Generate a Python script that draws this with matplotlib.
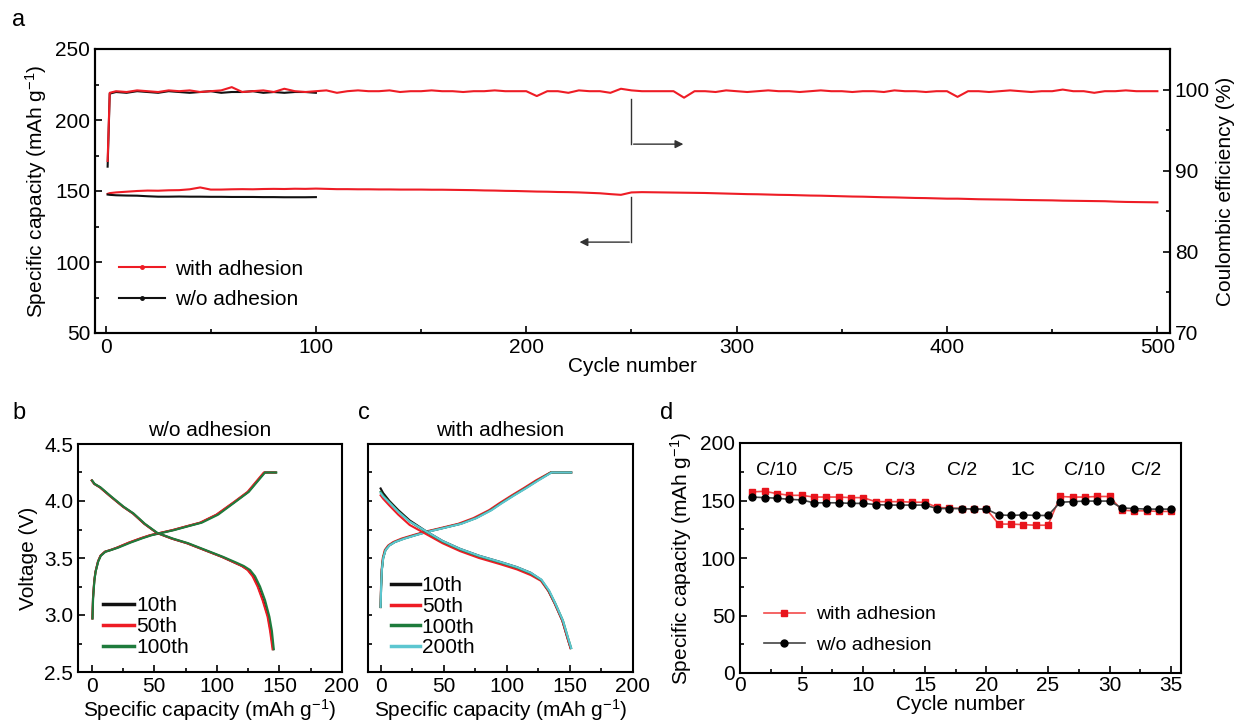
import matplotlib
matplotlib.use("Agg")
import matplotlib.pyplot as plt
from matplotlib.ticker import MultipleLocator
from matplotlib.lines import Line2D

plt.rcParams['font.family'] = ['Liberation Sans', 'DejaVu Sans']
plt.rcParams['mathtext.default'] = 'regular'
plt.rcParams['axes.linewidth'] = 1.5

RED = '#ee1c25'
BLACK = '#111111'
GREEN = '#1e7b3c'
CYAN = '#5cc6d0'

# ---------------- panel a data ----------------
cyc_with = [1, 2] + list(range(5, 501, 5))
cap_with = [148.0, 148.5, 149.0, 149.5, 150.0, 150.3, 150.2, 150.5, 150.6, 151.2, 152.5, 151.0,
            151.0, 151.2, 151.3, 151.2, 151.4, 151.5, 151.4, 151.6, 151.5, 151.7,
            151.5, 151.3, 151.3, 151.2, 151.2, 151.1, 151.1, 151.0, 151.0, 151.0,
            150.9, 150.9, 150.8, 150.7, 150.6, 150.4, 150.3, 150.1, 150.0, 149.8,
            149.6, 149.5, 149.3, 149.2, 149.0, 148.7, 148.4, 147.8, 147.3, 149.0,
            149.2, 149.1, 149.0, 148.9, 148.8, 148.7, 148.6, 148.4, 148.2, 148.0,
            147.8, 147.7, 147.5, 147.3, 147.2, 147.0, 146.8, 146.7, 146.5, 146.3,
            146.1, 146.0, 145.8, 145.6, 145.5, 145.3, 145.1, 145.0, 144.8, 144.6,
            144.6, 144.4, 144.2, 144.1, 144.0, 143.9, 143.7, 143.6, 143.5, 143.4,
            143.2, 143.1, 143.0, 142.9, 142.8, 142.5, 142.3, 142.2, 142.1, 142.0]
ce_with = [91.2, 99.6, 99.8, 99.7, 99.9, 99.8, 99.7, 99.9, 99.8, 99.9, 99.7, 99.8,
           99.9, 100.3, 99.7, 99.8, 99.9, 99.7, 100.1, 99.8, 99.7, 99.8,
           99.9, 99.6, 99.8, 99.9, 99.8, 99.8, 99.9, 99.7, 99.8, 99.8,
           99.9, 99.8, 99.8, 99.7, 99.8, 99.8, 99.9, 99.8, 99.8, 99.8,
           99.2, 99.8, 99.8, 99.6, 99.9, 99.8, 99.8, 99.6, 100.1, 99.9,
           99.8, 99.8, 99.8, 99.8, 99.0, 99.8, 99.8, 99.7, 99.9, 99.8,
           99.7, 99.8, 99.9, 99.8, 99.8, 99.7, 99.8, 99.9, 99.8, 99.8,
           99.7, 99.8, 99.8, 99.7, 99.9, 99.8, 99.8, 99.7, 99.8, 99.8,
           99.1, 99.8, 99.8, 99.7, 99.8, 99.9, 99.8, 99.7, 99.8, 99.8,
           100.0, 99.8, 99.8, 99.6, 99.8, 99.8, 99.9, 99.8, 99.8, 99.8]

cyc_wo = [1, 2] + list(range(5, 101, 5))
cap_wo = [147.5, 147.3, 147.0, 146.8, 146.7, 146.3, 146.0, 146.0, 146.1, 146.0, 146.0,
          145.9, 145.9, 145.8, 145.8, 145.8, 145.7, 145.7, 145.6, 145.6, 145.6, 145.7]
ce_wo = [90.5, 99.5, 99.7, 99.6, 99.8, 99.7, 99.6, 99.8, 99.7, 99.6, 99.7, 99.8,
         99.6, 99.7, 99.7, 99.8, 99.6, 99.7, 99.6, 99.7, 99.7, 99.6]

# ---------------- panel b data (w/o adhesion) ----------------
b_chg_v = [2.97, 3.15, 3.30, 3.38, 3.47, 3.52, 3.555, 3.57, 3.59, 3.635, 3.675,
           3.70, 3.72, 3.745, 3.775, 3.81, 3.88, 3.99, 4.08, 4.25, 4.25]
b_chg_10 = [0.5, 1, 2, 3, 5, 7, 10.5, 15, 20, 30, 40, 47, 55, 65, 75, 87, 100, 114, 125, 138, 147]
b_chg_50 = [0.5, 1, 2, 3, 5, 7, 10.5, 15, 20, 29.5, 39.5, 46.5, 54.5, 64.5, 74.5, 86.5, 99.5,
            113.5, 124.5, 137.5, 147]
b_chg_100 = [0.6, 1.1, 2.1, 3.1, 5.2, 7.3, 11, 15.5, 21, 31, 41, 48, 56, 66, 76, 88, 101,
             114.5, 125.5, 138.5, 147.5]
b_dis_v = [4.18, 4.15, 4.12, 4.04, 3.95, 3.89, 3.80, 3.72, 3.67, 3.63, 3.57, 3.51, 3.46,
           3.43, 3.395, 3.34, 3.25, 3.13, 2.985, 2.86, 2.70]
b_dis_10 = [0, 2, 6.5, 15, 25, 33, 42, 52, 64, 76, 90, 104, 114, 120, 125, 129, 133, 137,
            141, 143, 145]
b_dis_50 = [0, 2, 6.5, 15, 25, 33, 42, 52, 64, 76, 90, 104, 114, 120, 124.5, 128.5, 132.5,
            136.5, 140.5, 142.5, 144.5]
b_dis_100 = [0.3, 2.3, 7, 15.5, 25.5, 33.5, 42.5, 52.5, 65, 77, 91, 105, 115.5, 121.5, 126.5,
             130.5, 134.5, 138.5, 142, 144, 145.5]

# ---------------- panel c data (with adhesion) ----------------
c_chg_v = [3.07, 3.25, 3.40, 3.50, 3.57, 3.61, 3.64, 3.67, 3.70, 3.73, 3.76, 3.80, 3.85,
           3.92, 3.98, 4.05, 4.11, 4.18, 4.25, 4.25]
c_chg_10 = [0, 0.4, 1.0, 2.0, 3.8, 6.7, 11, 18, 27, 36.5, 48, 63, 75, 87, 95, 105, 114, 124, 135, 151]
c_chg_50 = [0, 0.3, 0.8, 1.7, 3.3, 6.0, 10, 16.5, 25.5, 35, 46.5, 61.5, 73.5, 86, 94, 104, 113,
            123, 134.5, 151]
c_chg_100 = [0, 0.4, 1.0, 2.0, 3.8, 6.8, 11.2, 18.5, 27.5, 37, 48.5, 63.5, 75.5, 87.5, 95.5,
             105.5, 114.5, 124.5, 135, 151]
c_chg_200 = [0, 0.4, 1.0, 2.1, 4.0, 7.0, 11.5, 19, 28, 37.5, 49, 64, 76, 88, 96, 106, 115, 125,
             135.5, 151]
c_dis_cap = [0, 2, 7, 14, 23, 36, 49, 63, 78, 95, 108, 119, 127, 133, 138, 144, 148, 150.5]
c_dis_cap_late = [0, 2, 7, 14, 23, 36, 49, 63, 78, 95, 108, 119, 127.5, 133.5, 138.5, 144.5,
                  148.5, 151]
c_dis_10 = [4.11, 4.07, 4.00, 3.92, 3.83, 3.735, 3.65, 3.58, 3.52, 3.465, 3.42, 3.37, 3.31,
            3.21, 3.10, 2.95, 2.80, 2.71]
c_dis_50 = [4.05, 4.02, 3.96, 3.88, 3.79, 3.71, 3.63, 3.56, 3.50, 3.445, 3.40, 3.35, 3.30,
            3.21, 3.10, 2.95, 2.80, 2.71]
c_dis_100 = [4.08, 4.05, 3.99, 3.91, 3.82, 3.73, 3.645, 3.575, 3.515, 3.46, 3.415, 3.365,
             3.305, 3.21, 3.10, 2.95, 2.80, 2.71]
c_dis_200 = [4.07, 4.04, 3.985, 3.905, 3.82, 3.735, 3.65, 3.58, 3.52, 3.465, 3.42, 3.37,
             3.31, 3.215, 3.10, 2.95, 2.80, 2.71]

# ---------------- panel d data (rate) ----------------
rate_cycles = list(range(1, 36))
rate_with = [157.5, 158, 156, 154.5, 154.5, 153, 153, 153, 152.5, 152.5,
             149, 149, 149, 148.5, 148.5, 144, 143.5, 143, 142.5, 142.5,
             129.5, 129.5, 129, 128.5, 128.5, 153.5, 153, 153, 153.5, 153.5,
             141.5, 141, 141, 140.5, 140.5]
rate_wo = [153, 152.5, 152, 151, 150.5, 148, 148, 148, 147.5, 147.5,
           146.5, 146, 146, 146, 146, 143, 143, 143, 142.5, 142.5,
           137.5, 137, 137.5, 137, 137, 148.5, 149, 149.5, 149.5, 149.5,
           143.5, 143, 142.5, 142.5, 142.5]
rate_labels = ['C/10', 'C/5', 'C/3', 'C/2', '1C', 'C/10', 'C/2']
rate_label_x = [3, 8, 13, 18, 23, 28, 33]

FS = 15
W, H = 1240, 724
fig = plt.figure(figsize=(W / 100, H / 100), dpi=100)


def rect(l, t, r, b):
    return [l / W, 1 - b / H, (r - l) / W, (b - t) / H]


def style(ax, right=False):
    ax.tick_params(which='both', direction='in', labelsize=FS, width=1.2,
                   top=False, right=right, left=not right)
    ax.tick_params(which='major', length=5)
    ax.tick_params(which='minor', length=3)


# ---- panel a ----
ax = fig.add_axes(rect(95, 49, 1170, 333))
ax2 = ax.twinx()
ax.plot(cyc_with, cap_with, '-', color=RED, lw=1.5)
ax.plot(cyc_wo, cap_wo, '-', color=BLACK, lw=1.5)
ax2.plot(cyc_wo, ce_wo, '-', color=BLACK, lw=1.5)
ax2.plot(cyc_with, ce_with, '-', color=RED, lw=1.5)
ax.set_xlim(-5, 506)
ax.set_ylim(50, 250)
ax2.set_ylim(70, 105)
ax.xaxis.set_major_locator(MultipleLocator(100))
ax.xaxis.set_minor_locator(MultipleLocator(50))
ax.yaxis.set_major_locator(MultipleLocator(50))
ax.yaxis.set_minor_locator(MultipleLocator(25))
ax2.yaxis.set_major_locator(MultipleLocator(10))
ax2.yaxis.set_minor_locator(MultipleLocator(5))
style(ax)
ax2.tick_params(which='both', direction='in', labelsize=FS, width=1.2)
ax2.tick_params(which='major', length=5)
ax2.tick_params(which='minor', length=3)
ax.set_xlabel('Cycle number', fontsize=FS, labelpad=0)
ax.set_ylabel('Specific capacity (mAh g$^{-1}$)', fontsize=FS, labelpad=4)
ax2.set_ylabel('Coulombic efficiency (%)', fontsize=FS, labelpad=4)
proxies = [Line2D([], [], color=RED, lw=1.5, marker='o', ms=2.5),
           Line2D([], [], color=BLACK, lw=1.5, marker='o', ms=2.5)]
ax.legend(proxies, ['with adhesion', 'w/o adhesion'], loc='lower left',
          bbox_to_anchor=(0.0, 0.0), frameon=False, fontsize=15,
          handlelength=2.2, handletextpad=0.5, labelspacing=0.55, borderaxespad=0.75)
# annotation arrows
ax.plot([250, 250], [215, 183], color='#333333', lw=1)
ax.annotate('', xy=(276, 183), xytext=(249.7, 183),
            arrowprops=dict(arrowstyle='-|>', color='#333333', lw=1, mutation_scale=12))
ax.plot([250, 250], [145.5, 114], color='#333333', lw=1)
ax.annotate('', xy=(224, 114), xytext=(250.3, 114),
            arrowprops=dict(arrowstyle='-|>', color='#333333', lw=1, mutation_scale=12))
fig.text(12 / W, 1 - 20 / H, 'a', fontsize=17, va='center', ha='left')

# ---- panel b ----
axb = fig.add_axes(rect(78, 444, 342, 672))
axb.plot(b_chg_10, b_chg_v, color=BLACK, lw=1.5, label='10th')
axb.plot(b_chg_50, b_chg_v, color=RED, lw=1.5, label='50th')
axb.plot(b_chg_100, b_chg_v, color=GREEN, lw=1.5, label='100th')
axb.plot(b_dis_10, b_dis_v, color=BLACK, lw=1.5)
axb.plot(b_dis_50, b_dis_v, color=RED, lw=1.5)
axb.plot(b_dis_100, b_dis_v, color=GREEN, lw=1.5)
axb.set_xlim(-11, 200)
axb.set_ylim(2.5, 4.5)
axb.xaxis.set_major_locator(MultipleLocator(50))
axb.xaxis.set_minor_locator(MultipleLocator(25))
axb.yaxis.set_major_locator(MultipleLocator(0.5))
axb.yaxis.set_minor_locator(MultipleLocator(0.25))
style(axb)
axb.set_xlabel('Specific capacity (mAh g$^{-1}$)', fontsize=FS, labelpad=1)
axb.set_ylabel('Voltage (V)', fontsize=FS, labelpad=4)
axb.set_title('w/o adhesion', fontsize=FS, pad=6)
legb = axb.legend(loc='lower left', frameon=False, fontsize=15, handlelength=1.5,
                  handletextpad=0.1, labelspacing=0.1, borderaxespad=0.3,
                  bbox_to_anchor=(0.04, 0.0))
for h in legb.get_lines():
    h.set_linewidth(2.5)
fig.text(12 / W, 1 - 413 / H, 'b', fontsize=17, va='center', ha='left')

# ---- panel c ----
axc = fig.add_axes(rect(368, 444, 633, 672))
axc.plot(c_chg_10, c_chg_v, color=BLACK, lw=1.5, label='10th')
axc.plot(c_chg_50, c_chg_v, color=RED, lw=1.5, label='50th')
axc.plot(c_chg_100, c_chg_v, color=GREEN, lw=1.5, label='100th')
axc.plot(c_chg_200, c_chg_v, color=CYAN, lw=1.5, label='200th')
axc.plot(c_dis_cap, c_dis_10, color=BLACK, lw=1.5)
axc.plot(c_dis_cap, c_dis_50, color=RED, lw=1.5)
axc.plot(c_dis_cap_late, c_dis_100, color=GREEN, lw=1.5)
axc.plot(c_dis_cap_late, c_dis_200, color=CYAN, lw=1.5)
axc.set_xlim(-10, 200)
axc.set_ylim(2.5, 4.5)
axc.xaxis.set_major_locator(MultipleLocator(50))
axc.xaxis.set_minor_locator(MultipleLocator(25))
axc.yaxis.set_major_locator(MultipleLocator(0.25))
style(axc)
axc.tick_params(axis='y', labelleft=False, length=3)
axc.set_xlabel('Specific capacity (mAh g$^{-1}$)', fontsize=FS, labelpad=1)
axc.set_title('with adhesion', fontsize=FS, pad=6)
legc = axc.legend(loc='lower left', frameon=False, fontsize=15, handlelength=1.4,
                  handletextpad=0.1, labelspacing=0.08, borderaxespad=0.3,
                  bbox_to_anchor=(0.03, 0.0))
for h in legc.get_lines():
    h.set_linewidth(2.5)
fig.text(358 / W, 1 - 413 / H, 'c', fontsize=17, va='center', ha='left')

# ---- panel d ----
axd = fig.add_axes(rect(740, 443, 1181, 673))
axd.plot(rate_cycles, rate_with, '-s', color='#f24a4a', mfc='#e8141c', mec='#e8141c',
         ms=5, lw=1.2, label='with adhesion')
axd.plot(rate_cycles, rate_wo, '-o', color='#444444', mfc='black', mec='black',
         ms=5, lw=1.2, label='w/o adhesion')
for lab, xv in zip(rate_labels, rate_label_x):
    axd.text(xv, 176, lab, fontsize=14, ha='center', va='center')
axd.set_xlim(0, 35.8)
axd.set_ylim(0, 200)
axd.xaxis.set_major_locator(MultipleLocator(5))
axd.xaxis.set_minor_locator(MultipleLocator(2.5))
axd.yaxis.set_major_locator(MultipleLocator(50))
axd.yaxis.set_minor_locator(MultipleLocator(25))
style(axd)
axd.tick_params(axis='x', which='both', pad=2)
axd.set_xlabel('Cycle number', fontsize=FS, labelpad=0)
axd.set_ylabel('Specific capacity (mAh g$^{-1}$)', fontsize=FS, labelpad=4)
axd.legend(loc='lower left', frameon=False, fontsize=14, handlelength=2.1,
           handletextpad=0.6, labelspacing=0.65, borderaxespad=0.6,
           bbox_to_anchor=(0.01, 0.0))
fig.text(660 / W, 1 - 413 / H, 'd', fontsize=17, va='center', ha='left')

fig.savefig('out.png', dpi=100)
